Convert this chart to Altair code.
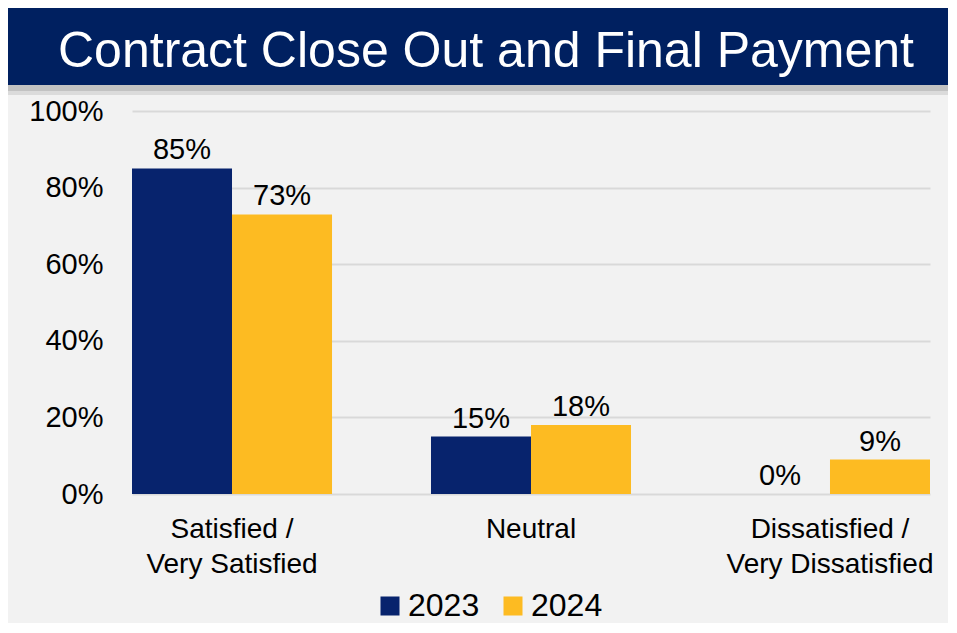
import altair as alt
import pandas as pd

# ---- data ----
categories = ["Satisfied / Very Satisfied", "Neutral", "Dissatisfied / Very Dissatisfied"]
years = ["2023", "2024"]
values_2023 = [85, 15, 0]
values_2024 = [73, 18, 9]
title_text = "Contract Close Out and Final Payment"
y_ticks = [0, 20, 40, 60, 80, 100]

NAVY = "#07236d"
GOLD = "#fdbb22"
BANNER = "#002060"
FONT = "Liberation Sans"

rows = []
for yr, vals in zip(years, [values_2023, values_2024]):
    for c, v in zip(categories, vals):
        rows.append({"category": c, "year": yr, "value": v})
df = pd.DataFrame(rows)
one = pd.DataFrame({"k": [0]})

W, H = 798, 383
PAD_L, PAD_T, PAD_R, PAD_B = 124, 103, 18, 129


def rect(x, x2, y, y2, color, opacity=1.0):
    return alt.Chart(one).mark_rect(color=color, opacity=opacity).encode(
        x=alt.value(x), x2=alt.value(x2), y=alt.value(y), y2=alt.value(y2)
    )


banner_shadow1 = rect(-124, 817, -26, -20, "#9a9a9a", 0.55)
banner_shadow2 = rect(-124, 817, -20, -16, "#c4c4c4", 0.5)
banner = rect(-124, 817, -110, -26, BANNER)
title = alt.Chart(one).mark_text(
    font=FONT, fontSize=50, color="white", align="center", baseline="alphabetic"
).encode(x=alt.value(354), y=alt.value(-44), text=alt.value(title_text))

x_enc = alt.X(
    "category:N",
    sort=categories,
    scale=alt.Scale(paddingInner=0.331, paddingOuter=0),
    axis=alt.Axis(
        title=None, labelAngle=0, domain=False, ticks=False, labelFontSize=28,
        labelFont=FONT, labelColor="black", labelPadding=21, labelLineHeight=35,
        labelBaseline="top", labelLimit=0,
        labelExpr="split(replace(datum.label, ' / ', ' /|'), '|')",
    ),
)
xoff = alt.XOffset("year:N", sort=years, scale=alt.Scale(paddingInner=0, paddingOuter=0))
y_enc = alt.Y(
    "value:Q",
    scale=alt.Scale(domain=[0, 100], nice=False),
    axis=alt.Axis(
        title=None, values=y_ticks, domain=False, ticks=False, tickSize=0,
        grid=True, gridColor="#d9d9d9", gridWidth=2, labelFontSize=29,
        labelFont=FONT, labelColor="black", labelPadding=29,
        labelExpr="datum.value + '%'",
    ),
)

bars = alt.Chart(df).mark_bar().encode(
    x=x_enc,
    xOffset=xoff,
    y=y_enc,
    color=alt.Color(
        "year:N",
        sort=years,
        scale=alt.Scale(domain=years, range=[NAVY, GOLD]),
        legend=alt.Legend(
            title=None, orient="none", legendX=242, legendY=479,
            direction="horizontal", symbolType="square", symbolSize=361,
            symbolStrokeWidth=0, symbolOpacity=1, labelFontSize=32, labelFont=FONT,
            labelColor="black", labelOffset=2, columnPadding=17, padding=0,
        ),
    ),
)

labels = alt.Chart(df).transform_calculate(
    label="datum.value + '%'"
).mark_text(
    font=FONT, fontSize=29, color="black", baseline="alphabetic", dy=-9
).encode(x=alt.X("category:N", sort=categories), xOffset=xoff, y="value:Q", text="label:N")

chart = alt.layer(
    banner_shadow1, banner_shadow2, banner, title, bars, labels
).properties(
    width=W, height=H,
    padding={"left": PAD_L, "top": PAD_T, "right": PAD_R, "bottom": PAD_B},
    autosize=alt.AutoSizeParams(type="none"),
    background="#f2f2f2",
).configure_view(stroke=None)

chart.save("out.html", embed_options={"renderer": "svg", "actions": False})
